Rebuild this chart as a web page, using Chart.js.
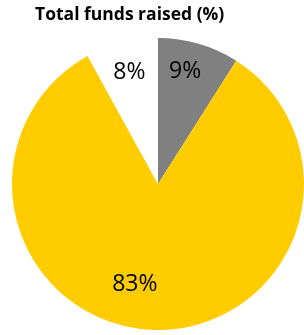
<!DOCTYPE html>
<html>
<head>
<meta charset="utf-8">
<script src="https://cdn.jsdelivr.net/npm/chart.js@4/dist/chart.umd.min.js"></script>
<style>
  html, body { margin: 0; padding: 0; background: #fff; }
  #wrap { position: relative; width: 304px; height: 335px; overflow: hidden; }
  #title { position: absolute; left: 35px; top: 1px; font: bold 17.5px "Open Sans", sans-serif; color: #000; white-space: nowrap; }
  canvas { position: absolute; left: 0; top: 0; }
</style>
</head>
<body>
<div id="wrap">
  <canvas id="c" width="304" height="335"></canvas>
  <div id="title">Total funds raised (%)</div>
</div>
<script>
const categories = ["Category A", "Category B", "Category C"];
const values = [9, 83, 8];
const labels = ["9%", "83%", "8%"];
const colors = ["#808080", "#FFCC00", "#FFFFFF"];
const labelRadius = [0.79, 0.70, 0.79];
const labelShift = [[-5, -2], [-20, -2], [0, 0]];

const labelPlugin = {
  id: 'sliceLabels',
  afterDatasetsDraw(chart) {
    const ctx = chart.ctx;
    const meta = chart.getDatasetMeta(0);
    ctx.save();
    ctx.font = '23px "Open Sans", sans-serif';
    ctx.fillStyle = '#000';
    ctx.textAlign = 'center';
    ctx.textBaseline = 'middle';
    meta.data.forEach((arc, i) => {
      const p = arc.getProps(['x', 'y', 'startAngle', 'endAngle', 'outerRadius'], true);
      const mid = (p.startAngle + p.endAngle) / 2;
      const r = p.outerRadius * labelRadius[i];
      const x = p.x + Math.cos(mid) * r + labelShift[i][0];
      const y = p.y + Math.sin(mid) * r + labelShift[i][1];
      ctx.fillText(labels[i], x, y);
    });
    ctx.restore();
  }
};

new Chart(document.getElementById('c'), {
  type: 'pie',
  data: {
    labels: categories,
    datasets: [{
      data: values,
      backgroundColor: colors,
      borderWidth: 0
    }]
  },
  options: {
    responsive: false,
    animation: false,
    layout: { padding: { top: 38, bottom: 5, left: 12, right: 0 } },
    plugins: {
      legend: { display: false },
      title: { display: false },
      tooltip: { enabled: false }
    }
  },
  plugins: [labelPlugin]
});
</script>
</body>
</html>
